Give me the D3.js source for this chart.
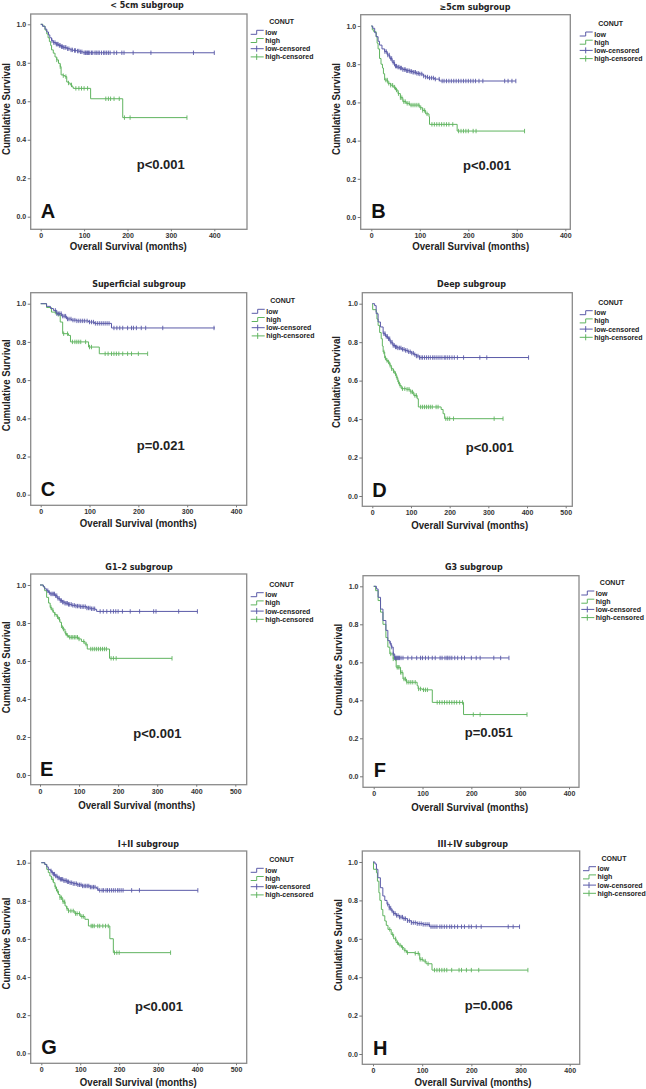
<!DOCTYPE html>
<html>
<head>
<meta charset="utf-8">
<title>CONUT subgroup survival</title>
<script src="https://d3js.org/d3.v7.min.js"></script>
<style>
    body { margin: 0; background: #fff; }
    text { font-family: "Liberation Sans", Arial, sans-serif; font-weight: bold; fill: #222; }
    .title { font-family: "DejaVu Sans", sans-serif; font-size: 8px; }
    .tick text { font-size: 7px; fill: #333; }
    .tick line { stroke: #777; }
    .axlab { font-size: 10.5px; }
    .leg { font-size: 7px; }
    .pval { font-size: 13px; }
    .letter { font-size: 20px; fill: #111; }
</style>
</head>
<body>
<svg id="fig" width="646" height="1089"></svg>
<script>
// ---- data: Kaplan-Meier steps [months, survival] and censored times ----
var titles = ["< 5cm subgroup", "\u22655cm subgroup", "Superficial subgroup", "Deep subgroup",
              "G1\u20132 subgroup", "G3 subgroup", "I+II subgroup", "III+IV subgroup"];
var pTexts = ["p<0.001", "p<0.001", "p=0.021", "p<0.001", "p<0.001", "p=0.051", "p<0.001", "p=0.006"];
var letters = ["A", "B", "C", "D", "E", "F", "G", "H"];
var legendLabels = ["low", "high", "low-censored", "high-censored"];
var yTicks = [0, 0.2, 0.4, 0.6, 0.8, 1.0];

var lowA = [[0,1],[4,0.99],[10,0.975],[14,0.96],[18,0.945],[21,0.93],[25,0.915],[29,0.905],[35,0.897],[41,0.89],[47,0.884],[52,0.88],[60,0.873],[68,0.867],[75,0.864],[83,0.861],[90,0.857],[98,0.852],[400,0.852]];
var highA = [[0,1],[5,0.99],[10,0.97],[14,0.95],[17,0.93],[20,0.91],[23,0.89],[25,0.867],[29,0.85],[33,0.83],[37,0.815],[41,0.797],[45,0.78],[47,0.737],[52,0.733],[56,0.728],[60,0.70],[64,0.695],[68,0.685],[72,0.675],[75,0.667],[115,0.613],[189,0.515],[337,0.515]];
var lowCensA = [26,30,33,36,38,40,43,45,48,50,53,56,58,62,65,70,73,78,80,85,88,92,95,100,103,105,108,110,113,117,120,125,128,132,135,140,145,148,152,156,160,169,175,187,192,213,254,352,400];
var highCensA = [37,45,52,58,64,71,81,88,94,100,108,150,156,161,169,181,193,206,337];

var lowB = [[0,1],[3,0.988],[7,0.965],[10,0.944],[14,0.92],[17,0.90],[22,0.88],[27.5,0.866],[33,0.848],[38,0.83],[43,0.81],[48,0.79],[53,0.785],[58,0.78],[65,0.772],[72,0.766],[80,0.762],[86,0.758],[93,0.752],[100,0.749],[107,0.738],[112,0.733],[117,0.728],[130,0.722],[141,0.712],[298,0.712]];
var highB = [[0,1],[2,0.98],[5,0.97],[10,0.944],[12,0.91],[14,0.88],[17,0.83],[20,0.80],[23,0.78],[25,0.75],[27.5,0.717],[34,0.70],[40,0.69],[45,0.68],[50,0.665],[55,0.646],[60,0.625],[65,0.604],[72,0.595],[79,0.586],[93,0.586],[100,0.572],[106,0.558],[112,0.54],[119,0.525],[120,0.485],[177,0.45],[316,0.45]];
var lowCensB = [28,31,34,37,40,42,45,47,50,52,55,57,60,62,65,68,70,73,75,78,80,83,86,88,91,94,97,100,104,108,112,116,120,124,128,132,140,146,150,155,160,165,170,175,180,185,190,195,200,205,210,215,222,230,275,282,290,298];
var highCensB = [30,33,36,40,44,48,52,56,60,63,67,70,74,78,82,86,90,94,98,102,106,110,115,125,130,135,140,145,150,155,160,168,180,185,190,195,200,210,216,316];

var lowC = [[0,1],[12,0.986],[20,0.975],[26,0.965],[33,0.948],[43,0.935],[53,0.92],[63,0.914],[74,0.91],[98,0.904],[110,0.897],[145,0.873],[357,0.873]];
var highC = [[0,1],[12,0.98],[22,0.956],[33,0.944],[40,0.904],[45,0.843],[57,0.834],[61,0.80],[98,0.773],[120,0.738],[219,0.738]];
var lowCensC = [30,33,36,39,42,45,48,51,55,58,62,66,70,74,78,82,86,90,95,100,104,108,112,116,120,124,128,132,136,140,150,156,162,168,178,186,190,196,206,215,250,355];
var highCensC = [30,36,47,55,65,70,74,78,82,92,100,104,132,138,145,150,155,160,168,178,186,200,219];

var lowD = [[0,1],[6,0.99],[10,0.948],[15,0.905],[21,0.879],[28,0.844],[34,0.83],[40,0.818],[46,0.8],[53,0.783],[60,0.775],[66,0.77],[75,0.763],[84,0.757],[92,0.75],[101,0.743],[108,0.735],[114,0.728],[122,0.72],[404,0.72]];
var highD = [[0,1],[1,0.969],[10,0.957],[12,0.92],[15,0.887],[19,0.85],[23,0.818],[26,0.78],[28,0.749],[32,0.718],[36,0.705],[40,0.697],[45,0.68],[49,0.662],[54,0.65],[58,0.636],[62,0.615],[66,0.593],[70,0.575],[75,0.558],[88,0.555],[98,0.541],[107,0.523],[116,0.506],[119,0.463],[178,0.45],[183,0.428],[187,0.402],[338,0.402]];
var lowCensD = [30,33,36,39,42,45,48,51,54,57,60,63,66,70,74,78,82,86,90,94,98,102,106,110,114,118,122,126,130,135,140,145,150,156,160,165,170,175,180,186,190,195,200,206,212,220,236,278,296,404];
var highCensD = [30,34,38,42,46,50,55,60,64,68,72,78,84,90,95,100,104,110,114,125,130,135,140,145,150,155,165,170,190,195,200,210,315,338];

var lowE = [[0,1],[8.5,0.991],[12,0.98],[17,0.97],[22,0.96],[26,0.953],[38,0.944],[44,0.93],[51,0.918],[58,0.91],[64,0.904],[72,0.898],[81,0.893],[92,0.889],[103,0.886],[120,0.879],[130,0.875],[141,0.872],[145,0.861],[403,0.861]];
var highE = [[0,1],[8.5,0.99],[12,0.97],[17,0.935],[22,0.905],[26,0.882],[30,0.868],[34,0.856],[38,0.845],[43,0.833],[47,0.82],[51,0.804],[55,0.785],[58,0.768],[64,0.746],[68,0.735],[73,0.725],[98,0.716],[106,0.703],[115,0.689],[121,0.663],[178,0.614],[338,0.614]];
var lowCensE = [20,24,28,31,34,37,40,43,46,49,52,55,58,61,64,67,70,73,76,80,84,88,92,96,100,104,108,112,116,120,124,128,132,136,140,154,162,171,181,188,194,200,211,231,255,291,297,355,403];
var highCensE = [28,33,38,45,50,55,60,66,70,76,80,84,88,92,96,100,112,118,130,135,140,145,150,155,160,165,170,182,188,195,338];

var lowF = [[0,1],[5.5,0.986],[9,0.942],[14,0.88],[19,0.82],[25,0.768],[29,0.714],[33,0.70],[36,0.68],[40,0.644],[43,0.623],[277,0.623]];
var highF = [[0,1],[4,0.977],[9,0.925],[14,0.864],[19,0.80],[25,0.73],[29,0.68],[33,0.644],[40,0.618],[46,0.574],[55,0.547],[60,0.512],[67,0.495],[89,0.477],[91,0.46],[100,0.455],[120,0.389],[184,0.325],[314,0.325]];
var lowCensF = [34,37,40,43,45,47,49,51,53,56,60,70,78,88,96,100,106,112,120,126,136,140,146,150,152,156,160,166,172,180,186,200,210,218,246,260,277];
var highCensF = [35,40,45,48,50,52,55,58,62,65,68,72,76,80,85,92,96,102,106,110,130,135,140,145,150,155,160,165,170,176,182,204,218,314];

var lowG = [[0,1],[9,0.991],[14,0.978],[18,0.965],[23,0.957],[27,0.948],[31,0.94],[35,0.93],[42,0.92],[48,0.913],[56,0.906],[65,0.9],[73,0.895],[82,0.89],[93,0.884],[104,0.878],[125,0.872],[142,0.864],[146,0.855],[402,0.855]];
var highG = [[0,1],[9,0.99],[14,0.965],[18,0.948],[22,0.93],[26,0.912],[31,0.895],[35,0.873],[39,0.851],[44,0.833],[48,0.816],[55,0.795],[61,0.773],[65,0.76],[69,0.747],[86,0.733],[100,0.718],[112,0.703],[121,0.668],[176,0.601],[185,0.528],[332,0.528]];
var lowCensG = [25,28,31,34,37,40,43,46,49,52,55,58,61,64,67,70,74,78,82,86,90,94,98,102,106,110,114,118,122,126,130,134,138,145,150,156,160,166,170,175,180,185,190,196,200,205,210,232,252,402];
var highCensG = [30,36,42,48,52,56,60,66,70,76,82,88,92,98,104,108,128,132,136,145,150,158,165,172,188,194,200,332];

var lowH = [[0,1],[4,0.99],[7,0.962],[10,0.918],[15,0.866],[20,0.823],[24,0.8],[28.5,0.78],[33,0.76],[37,0.745],[42,0.732],[47,0.722],[54,0.713],[61,0.705],[70,0.694],[78,0.684],[90,0.679],[102,0.675],[115,0.663],[298,0.663]];
var highH = [[0,1],[1,0.962],[7,0.944],[9,0.9],[12,0.84],[14,0.8],[17,0.753],[20,0.72],[24,0.693],[27,0.67],[30.5,0.649],[37,0.623],[42,0.6],[47,0.58],[52,0.567],[58,0.554],[63,0.54],[68,0.528],[85,0.524],[95,0.493],[102,0.484],[108,0.47],[120,0.437],[315,0.437]];
var lowCensH = [30,33,36,39,42,45,48,51,54,57,60,63,66,70,74,78,82,86,90,94,98,102,106,110,114,118,122,126,130,136,140,145,150,156,160,166,172,180,186,195,200,210,220,275,285,298];
var highCensH = [34,40,46,50,55,60,65,70,86,92,96,100,106,112,125,130,135,140,145,150,160,175,180,190,200,215,315];

// ---- layout of each panel (pixels) ----
var panels = [
    { low: lowA, high: highA, lc: lowCensA, hc: highCensA, box: [30.7,14,247,229.3], xr: [40.7,214.3], xMax: 400, yr: [216.7,24.3], title: [147,8.4], leg: [250.7,32.3], xLab: [128.3,250.3], yLab: [6,109], p: [136.7,168.5] },
    { low: lowB, high: highB, lc: lowCensB, hc: highCensB, box: [360.7,14.7,570.3,229.3], xr: [371.3,565.3], xMax: 400, yr: [217,26], title: [475,9.6], leg: [579.7,34], xLab: [470.7,250.3], yLab: [336.3,109], p: [463,170] },
    { low: lowC, high: highC, lc: lowCensC, hc: highCensC, box: [30.7,292.7,246.7,505.3], xr: [40.7,236], xMax: 400, yr: [494.7,303.7], title: [139,287.3], leg: [251.7,311.3], xLab: [138.3,527.3], yLab: [6,385.3], p: [136.7,449.8] },
    { low: lowD, high: highD, lc: lowCensD, hc: highCensD, box: [362.3,292.7,572.3,506.3], xr: [372.3,565.7], xMax: 500, yr: [496,303.7], title: [471.5,286.8], leg: [579.7,312.7], xLab: [469.7,528.9], yLab: [336.3,382], p: [465.7,451.5] },
    { low: lowE, high: highE, lc: lowCensE, hc: highCensE, box: [30.7,574,246.7,784.7], xr: [40,235.3], xMax: 500, yr: [775,585], title: [139,570.4], leg: [250.7,594.7], xLab: [136.7,809.3], yLab: [6,667.3], p: [133.3,737.8] },
    { low: lowF, high: highF, lc: lowCensF, hc: highCensF, box: [363,575.7,579,787.3], xr: [373.7,569], xMax: 400, yr: [776.3,586.3], title: [473.8,569.8], leg: [581.3,593], xLab: [469.7,810.9], yLab: [338,669.8], p: [464.7,736.8] },
    { low: lowG, high: highG, lc: lowCensG, hc: highCensG, box: [30.7,851,246.7,1063.3], xr: [41.3,236], xMax: 500, yr: [1053.3,862.7], title: [148.3,847.4], leg: [250.7,870.3], xLab: [138.3,1086.3], yLab: [6,943.5], p: [135,1010.5] },
    { low: lowH, high: highH, lc: lowCensH, hc: highCensH, box: [362.3,851,579.7,1064.3], xr: [373,569.7], xMax: 400, yr: [1054,862], title: [472.7,847.4], leg: [583,868.7], xLab: [473,1086.3], yLab: [338,945], p: [464.7,1009.8] }
];

var lowColor = "#5a5aa8";
var highColor = "#60b460";

var svg = d3.select("#fig");
svg.append("rect").attr("width", 646).attr("height", 1089).attr("fill", "#fff");

// survival value of a step curve at time t
function survAt(curve, t) {
    var s = curve[0][1];
    curve.forEach(function(d) { if (d[0] <= t) s = d[1]; });
    return s;
}

panels.forEach(function(p, i) {
    var g = svg.append("g");

    var x = d3.scaleLinear().domain([0, p.xMax]).range(p.xr);
    var y = d3.scaleLinear().domain([0, 1]).range(p.yr);

    // frame
    g.append("rect")
        .attr("x", p.box[0]).attr("y", p.box[1])
        .attr("width", p.box[2] - p.box[0]).attr("height", p.box[3] - p.box[1])
        .attr("fill", "none").attr("stroke", "#8a8a8a").attr("stroke-width", 1.3);

    // axes
    var ya = g.append("g")
        .attr("transform", "translate(" + p.box[0] + ",0)")
        .call(d3.axisLeft(y).tickValues(yTicks).tickFormat(d3.format(".1f")).tickSize(3).tickPadding(1.5));
    ya.select(".domain").remove();

    var xa = g.append("g")
        .attr("transform", "translate(0," + p.box[3] + ")")
        .call(d3.axisBottom(x).tickValues(d3.range(0, p.xMax + 1, 100)).tickSize(2).tickPadding(2));
    xa.select(".domain").remove();
    g.selectAll(".tick text").attr("font-family", null).attr("font-size", null);

    // curves
    var line = d3.line()
        .x(function(d) { return x(d[0]); })
        .y(function(d) { return y(d[1]); })
        .curve(d3.curveStepAfter);

    [[p.high, p.hc, highColor], [p.low, p.lc, lowColor]].forEach(function(c) {
        g.append("path")
            .datum(c[0])
            .attr("d", line)
            .attr("fill", "none")
            .attr("stroke", c[2])
            .attr("stroke-width", 1);

        g.selectAll(null)
            .data(c[1])
            .enter().append("line")
            .attr("x1", function(t) { return x(t); })
            .attr("x2", function(t) { return x(t); })
            .attr("y1", function(t) { return y(survAt(c[0], t)) - 2.2; })
            .attr("y2", function(t) { return y(survAt(c[0], t)) + 2.2; })
            .attr("stroke", c[2])
            .attr("stroke-width", 0.9);
    });

    // texts
    g.append("text").attr("class", "title")
        .attr("x", p.title[0]).attr("y", p.title[1])
        .attr("text-anchor", "middle")
        .text(titles[i]);

    g.append("text").attr("class", "axlab")
        .attr("x", p.xLab[0]).attr("y", p.xLab[1])
        .attr("text-anchor", "middle")
        .attr("textLength", 117).attr("lengthAdjust", "spacingAndGlyphs")
        .text("Overall Survival (months)");

    g.append("text").attr("class", "axlab")
        .attr("transform", "translate(" + p.yLab[0] + "," + p.yLab[1] + ") rotate(-90)")
        .attr("dy", "0.35em")
        .attr("text-anchor", "middle")
        .attr("textLength", 92).attr("lengthAdjust", "spacingAndGlyphs")
        .text("Cumulative Survival");

    g.append("text").attr("class", "pval")
        .attr("x", p.p[0]).attr("y", p.p[1])
        .text(pTexts[i]);

    g.append("text").attr("class", "letter")
        .attr("x", x(0)).attr("y", y(0) + 1)
        .text(letters[i]);

    // legend
    var lx = p.leg[0], ly = p.leg[1];
    g.append("text").attr("class", "leg")
        .attr("x", lx + 31).attr("y", ly - 8)
        .attr("text-anchor", "middle")
        .text("CONUT");

    legendLabels.forEach(function(lab, k) {
        var yy = ly + k * 8.2;
        var col = (k % 2 === 0) ? lowColor : highColor;
        if (k < 2) {
            g.append("path")
                .attr("d", "M" + lx + "," + (yy + 2) + "H" + (lx + 6) + "V" + (yy - 2) + "H" + (lx + 13))
                .attr("fill", "none").attr("stroke", col).attr("stroke-width", 1);
        } else {
            g.append("path")
                .attr("d", "M" + lx + "," + yy + "H" + (lx + 13) + "M" + (lx + 6) + "," + (yy - 3) + "V" + (yy + 3))
                .attr("fill", "none").attr("stroke", col).attr("stroke-width", 1);
        }
        g.append("text").attr("class", "leg")
            .attr("x", lx + 14.5).attr("y", yy + 2.5)
            .text(lab);
    });
});
</script>
</body>
</html>
